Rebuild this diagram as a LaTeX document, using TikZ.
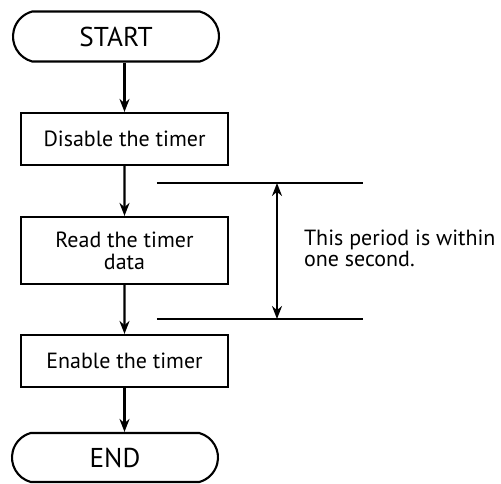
\documentclass[tikz,border=0pt]{standalone}
\usepackage{fontspec}
\setmainfont{PT Sans}
\usetikzlibrary{arrows.meta,shapes.misc}

\begin{document}
\begin{tikzpicture}[scale=0.2, line width=1.2pt]
	\tikzstyle{every node}+=[inner sep=0pt]
	\tikzstyle{term}=[draw, rounded rectangle, rounded rectangle arc length=150, minimum width=4.12cm, minimum height=1cm, font=\fontsize{15.5}{16}\selectfont]
	\tikzstyle{proc}=[draw, rectangle, minimum width=4.14cm, minimum height=1.04cm, align=center, font=\fontsize{12.5}{12.5}\selectfont]
	\tikzstyle{flow}=[-{Stealth[length=2.6mm,width=2mm]}]
	\useasboundingbox (0,0) rectangle (50.1,-48.4);
	\draw (11.6,-3.65) node[term] (start) {START};
	\draw (12.45,-13.9) node[proc] (dis) {Disable the timer};
	\draw (12.45,-25.05) node[proc, minimum height=1.34cm] (read) {Read the timer\\data};
	\draw (12.45,-36.1) node[proc] (ena) {Enable the timer};
	\draw (11.5,-45.75) node[term, minimum height=0.98cm] (end) {END};
	\draw [flow] (start.south -| dis.north) -- (dis.north);
	\draw [flow] (dis) -- (read);
	\draw [flow] (read) -- (ena);
	\draw [flow] (ena.south) -- (ena.south |- end.north);
	% period marks
	\coordinate (ta) at (15.7,-18.3);
	\coordinate (tb) at (36.3,-18.3);
	\coordinate (ba) at (15.7,-31.9);
	\coordinate (bb) at (36.3,-31.9);
	\coordinate (pa) at (27.7,-18.3);
	\coordinate (pb) at (27.7,-31.9);
	\draw (ta) -- (tb);
	\draw (ba) -- (bb);
	\draw [{Stealth[length=2.6mm,width=2mm]}-{Stealth[length=2.6mm,width=2mm]}] (pa) -- (pb);
	\draw (30.3,-22.9) node[anchor=north west, align=left, font=\fontsize{12.5}{12}\selectfont] (note) {This period is within\\one second.};
\end{tikzpicture}
\end{document}
